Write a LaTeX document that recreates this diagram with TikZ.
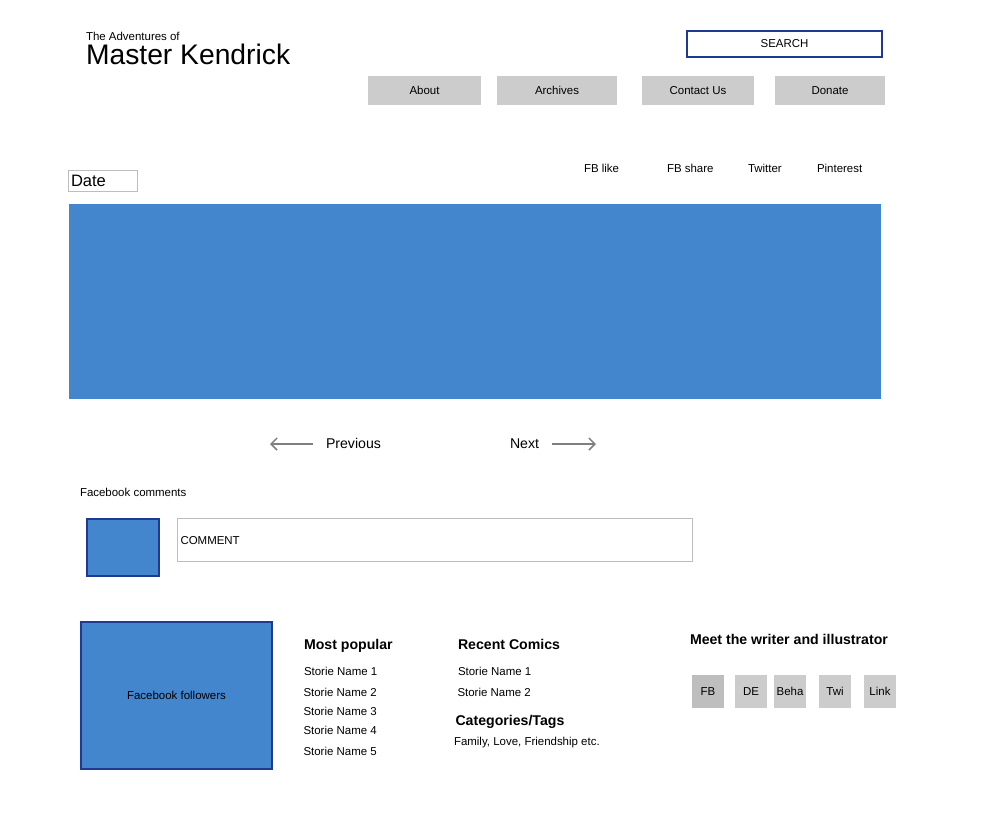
\documentclass[tikz,border=0pt]{standalone}
\usepackage{fontspec}
\setmainfont{Liberation Sans}
\usetikzlibrary{positioning, arrows.meta}
\definecolor{panelblue}{HTML}{4386CE}
\definecolor{edgeblue}{HTML}{1F3A93}
\definecolor{navgray}{HTML}{CCCCCC}
\definecolor{linegray}{HTML}{BDBDBD}
\definecolor{arrowgray}{HTML}{7F7F7F}
\tikzstyle{navbox} = [rectangle, fill=navgray, inner sep=0pt, outer sep=0pt, minimum width=84pt, minimum height=21.75pt, font=\fontsize{8.6}{11}\selectfont]
\tikzstyle{iconbox} = [rectangle, fill=navgray, inner sep=0pt, outer sep=0pt, minimum width=24pt, minimum height=24.75pt, font=\fontsize{8.6}{11}\selectfont]
\tikzstyle{bluebox} = [rectangle, fill=panelblue, draw=edgeblue, line width=1.5pt, inner sep=0pt, outer sep=0pt, font=\fontsize{8.6}{11}\selectfont]
\tikzstyle{small} = [inner sep=0pt, outer sep=0pt, anchor=base west, font=\fontsize{8.6}{11}\selectfont]
\tikzstyle{heading} = [inner sep=0pt, outer sep=0pt, anchor=base west, font=\fontsize{10.6}{12}\selectfont\bfseries]
\tikzstyle{pager} = [inner sep=0pt, outer sep=0pt, anchor=base west, font=\fontsize{10.6}{12}\selectfont]
\tikzstyle{arrow} = [arrowgray, line width=1.1pt, -{Straight Barb[length=4.5pt,width=9pt]}, shorten <=9.5pt]

\begin{document}
\begin{tikzpicture}[x=0.75pt, y=-0.75pt]
    \useasboundingbox (0,0) rectangle (1000,819);

    % Header
    \node (subtitle) [small] at (86,40) {The Adventures of};
    \node (title) [small, font=\fontsize{21.2}{24}\selectfont] at (86,64) {Master Kendrick};
    \node (search) [rectangle, draw=edgeblue, line width=1.5pt, inner sep=0pt, minimum width=146.5pt, minimum height=20pt, font=\fontsize{8.6}{11}\selectfont] at (784.5,44) {SEARCH};

    % Menu
    \node (about) [navbox, minimum width=84.75pt, anchor=west] at (368,90.5) {About};
    \node (archives) [navbox, minimum width=90pt, right=12pt of about] {Archives};
    \node (contact) [navbox, right=18.75pt of archives] {Contact Us};
    \node (donate) [navbox, minimum width=82.5pt, right=15.75pt of contact] {Donate};

    % Sharing
    \node (fblike) [small] at (584,172) {FB like};
    \node (fbshare) [small] at (667,172) {FB share};
    \node (twitter) [small] at (748,172) {Twitter};
    \node (pinterest) [small] at (817,172) {Pinterest};
    \node (date) [rectangle, draw=linegray, line width=1.1pt, inner sep=0pt, minimum width=51.5pt, minimum height=15.75pt, text width=48pt, font=\fontsize{12.4}{14}\selectfont] at (103,181) {Date};

    % Comic
    \node (comic) [rectangle, fill=panelblue, inner sep=0pt, minimum width=609pt, minimum height=146pt] at (475.25,301.5) {};

    % Pager
    \node (previous) [pager] at (326,448) {Previous};
    \node (next) [pager] at (510,448) {Next};
    \coordinate (prevtip) at (270,444);
    \coordinate (nexttip) at (596,444);
    \draw [arrow] (previous.west |- prevtip) -- (prevtip);
    \draw [arrow] (next.east |- nexttip) -- (nexttip);

    % Comments
    \node (fbcomments) [small] at (80,496) {Facebook comments};
    \node (avatar) [bluebox, minimum width=54pt, minimum height=43pt] at (122.5,547.5) {};
    \node (comment) [rectangle, draw=linegray, line width=1.1pt, inner sep=0pt, minimum width=386.5pt, minimum height=32.5pt] at (435,540) {};
    \node (commenttext) [small] at (180.5,544.5) {COMMENT};

    % Footer
    \node (followers) [bluebox, minimum width=143.5pt, minimum height=110.5pt] at (176.5,695.5) {Facebook followers};

    \node (popular) [heading] at (304,649) {Most popular};
    \node (popular1) [small] at (304,675) {Storie Name 1};
    \node (popular2) [small] at (303.5,696) {Storie Name 2};
    \node (popular3) [small] at (303.5,715) {Storie Name 3};
    \node (popular4) [small] at (303.5,734) {Storie Name 4};
    \node (popular5) [small] at (303.5,755) {Storie Name 5};

    \node (recent) [heading] at (458,649) {Recent Comics};
    \node (recent1) [small] at (458,675) {Storie Name 1};
    \node (recent2) [small] at (457.5,696) {Storie Name 2};
    \node (tags) [heading] at (455.5,725) {Categories/Tags};
    \node (tagsline) [small] at (454,745) {Family, Love, Friendship etc.};

    \node (meet) [heading] at (690,644) {Meet the writer and illustrator};
    \node (fb) [iconbox, fill=navgray!93!black, anchor=west] at (692,691.5) {FB};
    \node (de) [iconbox, right=8.25pt of fb] {DE};
    \node (beha) [iconbox, right=5.25pt of de] {Beha};
    \node (twi) [iconbox, right=9.75pt of beha] {Twi};
    \node (link) [iconbox, right=9.75pt of twi] {Link};

\end{tikzpicture}
\end{document}
